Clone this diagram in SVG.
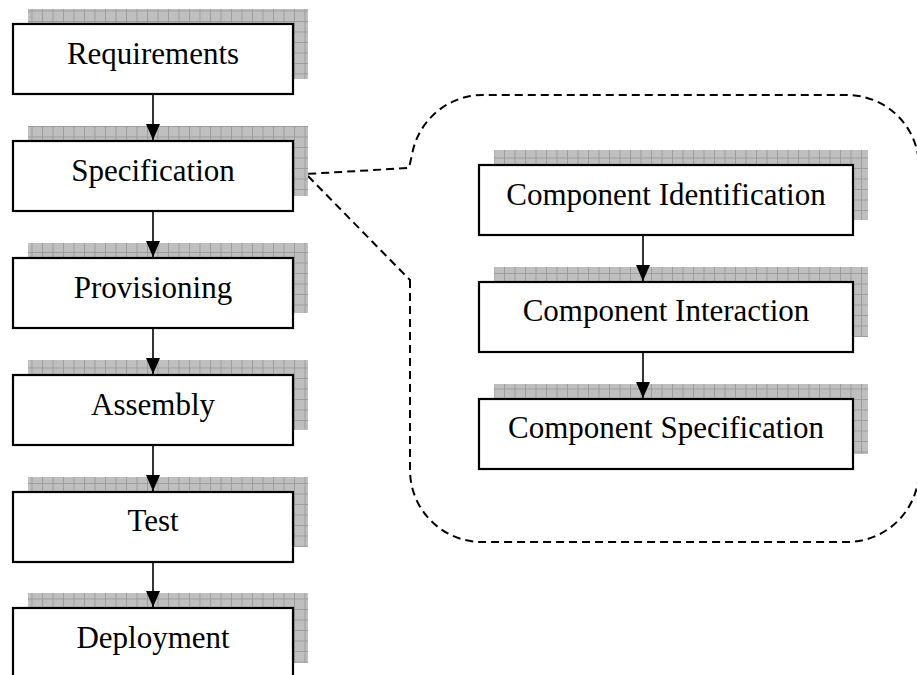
<svg xmlns="http://www.w3.org/2000/svg" width="917" height="675" viewBox="0 0 917 675">
  <defs>
    <!-- fine stipple used inside the shadow grid -->
    <pattern id="stipple" width="2" height="2" patternUnits="userSpaceOnUse">
      <rect width="2" height="2" fill="#cbcbcb"/>
      <rect width="1" height="1" fill="#b4b4b4"/>
      <rect x="1" y="1" width="1" height="1" fill="#b4b4b4"/>
    </pattern>
    <!-- gridded drop shadow -->
    <pattern id="grid" width="10.5" height="10.5" patternUnits="userSpaceOnUse">
      <rect width="10.5" height="10.5" fill="url(#stipple)"/>
      <path d="M0 0.5 H10.5 M0.5 0 V10.5" stroke="#9c9c9c" stroke-width="1" fill="none"/>
    </pattern>
    <marker id="head" viewBox="0 0 16 14" refX="16" refY="7" markerWidth="16" markerHeight="14" markerUnits="userSpaceOnUse" orient="auto">
      <path d="M0 0 L16 7 L0 14 Z" fill="#000"/>
    </marker>
    <style>
      .shadow { fill: url(#grid); }
      .box { fill: #fff; stroke: #000; stroke-width: 2.2; }
      .label { font-family: "Liberation Serif", "Times New Roman", serif; font-size: 31px; fill: #000; text-anchor: middle; }
      .flow { stroke: #000; stroke-width: 1.6; fill: none; marker-end: url(#head); }
      .callout { fill: none; stroke: #000; stroke-width: 2; stroke-dasharray: 8 5; }
    </style>
  </defs>

  <!-- callout bubble around the specification sub-steps -->
  <g id="callout">
    <path class="callout" d="M410 280 L410 470 A72 72 0 0 0 482 542 L847 542 A72 72 0 0 0 919 470 L919 167 A72 72 0 0 0 847 95 L482 95 A72 72 0 0 0 413 150 L409 168 L306 174 L405 275 Z"/>
  </g>

  <!-- main process chain -->
  <g id="requirements">
    <rect class="shadow" x="28" y="9" width="280" height="70"/>
    <rect class="box" x="13" y="24" width="280" height="70"/>
    <text class="label" x="153" y="64">Requirements</text>
  </g>
  <g id="specification">
    <rect class="shadow" x="28" y="126" width="280" height="70"/>
    <rect class="box" x="13" y="141" width="280" height="70"/>
    <text class="label" x="153" y="181">Specification</text>
  </g>
  <g id="provisioning">
    <rect class="shadow" x="28" y="243" width="280" height="70"/>
    <rect class="box" x="13" y="258" width="280" height="70"/>
    <text class="label" x="153" y="298">Provisioning</text>
  </g>
  <g id="assembly">
    <rect class="shadow" x="28" y="360" width="280" height="70"/>
    <rect class="box" x="13" y="375" width="280" height="70"/>
    <text class="label" x="153" y="415">Assembly</text>
  </g>
  <g id="test">
    <rect class="shadow" x="28" y="477" width="280" height="70"/>
    <rect class="box" x="13" y="492" width="280" height="70"/>
    <text class="label" x="153" y="531">Test</text>
  </g>
  <g id="deployment">
    <rect class="shadow" x="28" y="593" width="280" height="70"/>
    <rect class="box" x="13" y="608" width="280" height="70"/>
    <text class="label" x="153" y="648">Deployment</text>
  </g>

  <!-- specification sub-steps -->
  <g id="component-identification">
    <rect class="shadow" x="494" y="150" width="374" height="70"/>
    <rect class="box" x="479" y="165" width="374" height="70"/>
    <text class="label" x="666" y="205">Component Identification</text>
  </g>
  <g id="component-interaction">
    <rect class="shadow" x="494" y="267" width="374" height="70"/>
    <rect class="box" x="479" y="282" width="374" height="70"/>
    <text class="label" x="666" y="321">Component Interaction</text>
  </g>
  <g id="component-specification">
    <rect class="shadow" x="494" y="384" width="374" height="70"/>
    <rect class="box" x="479" y="399" width="374" height="70"/>
    <text class="label" x="666" y="438">Component Specification</text>
  </g>

  <g id="connectors">
    <line class="flow" x1="153" y1="95" x2="153" y2="140"/>
    <line class="flow" x1="153" y1="212" x2="153" y2="257"/>
    <line class="flow" x1="153" y1="329" x2="153" y2="374"/>
    <line class="flow" x1="153" y1="446" x2="153" y2="491"/>
    <line class="flow" x1="153" y1="563" x2="153" y2="607"/>
    <line class="flow" x1="643" y1="236" x2="643" y2="281"/>
    <line class="flow" x1="643" y1="353" x2="643" y2="398"/>
  </g>
</svg>
